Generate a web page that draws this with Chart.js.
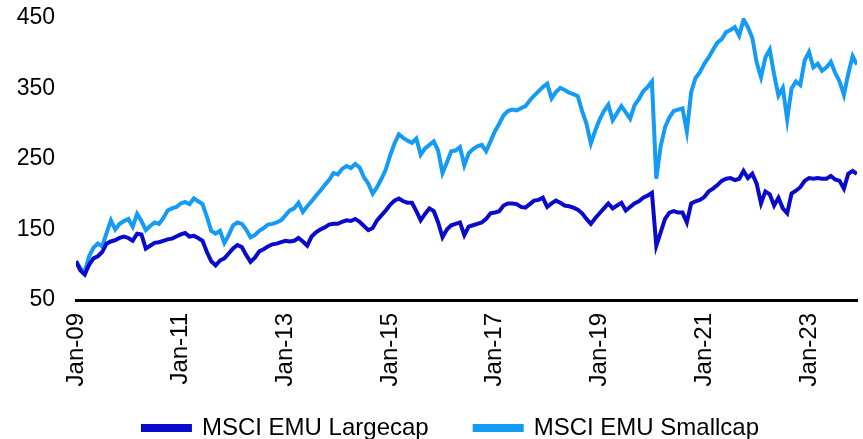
<!DOCTYPE html>
<html>
<head>
<meta charset="utf-8">
<script src="https://cdn.jsdelivr.net/npm/chart.js@4.4.1/dist/chart.umd.min.js"></script>
<style>
  html, body { margin: 0; padding: 0; background: #fff; }
  #wrap { width: 863px; height: 439px; position: relative; }
</style>
</head>
<body>
<div id="wrap"><canvas id="chart"></canvas></div>
<script>
// monthly index levels, Jan 2009 .. Dec 2023 (one row per year)
const largecap = [
  105, 92, 86, 100, 109, 112, 118, 130, 133, 135, 138, 140,
  138, 134, 144, 143, 123, 127, 131, 132, 134, 136, 137, 140,
  143, 145, 140, 141, 138, 134, 118, 105, 99, 106, 109, 116,
  123, 128, 125, 114, 104, 110, 119, 122, 126, 129, 130, 132,
  134, 133, 134, 138, 133, 127, 140, 146, 150, 153, 157, 158,
  158, 161, 163, 162, 165, 161, 155, 149, 152, 163, 170, 177,
  185, 191, 194, 190, 188, 188, 176, 163, 172, 180, 176, 160,
  139, 150, 156, 158, 160, 142, 154, 156, 158, 160, 165, 173,
  174, 176, 184, 187, 187, 186, 182, 181, 186, 191, 192, 195,
  182, 187, 191, 188, 184, 183, 181, 178, 173, 165, 158, 166,
  173, 180, 187, 180, 184, 188, 177, 182, 187, 190, 195, 198,
  202, 127, 146, 165, 174, 176, 174, 174, 160, 187, 190, 192,
  196, 204, 208, 213, 219, 222, 223, 220, 222, 233, 223, 229,
  215, 187, 204, 200, 184, 195, 180, 173, 201, 205, 210, 219,
  223, 222, 223, 222, 222, 226, 221, 219, 208, 229, 233, 229
]
const smallcap = [
  105, 95, 90, 112, 124, 130, 126, 145, 163, 150, 158, 162,
  165, 154, 172, 162, 149, 155, 160, 158, 166, 177, 180, 182,
  187, 189, 186, 194, 190, 186, 168, 148, 144, 148, 131, 142,
  156, 160, 158, 150, 139, 142, 148, 152, 157, 158, 160, 163,
  170, 177, 180, 188, 175, 183, 190, 198, 205, 213, 220, 230,
  228, 236, 240, 237, 243, 238, 224, 215, 201, 210, 222, 235,
  255, 272, 285, 280, 276, 273, 279, 256, 265, 270, 275, 262,
  230, 245, 261, 262, 267, 241, 258, 264, 268, 270, 261, 275,
  289, 300, 312, 318, 320, 319, 322, 325, 333, 340, 346, 352,
  357, 336, 345, 351, 348, 344, 342, 339, 318, 300, 272, 290,
  306, 318, 327, 305, 315, 325, 316, 307, 326, 335, 346, 352,
  360, 222, 268, 295, 309, 318, 320, 322, 289, 345, 365, 373,
  385, 394, 405, 415, 420, 430, 433, 437, 425, 448, 437, 422,
  387, 366, 394, 405, 370, 340, 351, 306, 350, 360, 355, 390,
  402, 380, 385, 375, 380, 388, 372, 360, 341, 371, 396, 384
]
const seriesNames = ["MSCI EMU Largecap", "MSCI EMU Smallcap"]
const tickMonths = [0, 24, 48, 72, 96, 120, 144, 168]
const tickLabels = ["Jan-09", "Jan-11", "Jan-13", "Jan-15", "Jan-17", "Jan-19", "Jan-21", "Jan-23"]
const yTicks = [50, 150, 250, 350, 450]

const font = "'Liberation Sans', Arial, sans-serif"
const toPoints = (arr) => arr.map((v, i) => ({ x: i, y: v }))

// axis labels are clipped to their scale box; widen the clip so they can hang outside
const uncropLabels = {
  id: "uncropLabels",
  afterLayout(chart) {
    chart.scales.y.left = 0
    chart.scales.x.bottom = chart.height
  },
}

new Chart(document.getElementById("chart"), {
  type: "line",
  data: {
    datasets: [
      { label: seriesNames[0], data: toPoints(largecap), borderColor: "#0a0acc", backgroundColor: "#0a0acc", borderWidth: 4 },
      { label: seriesNames[1], data: toPoints(smallcap), borderColor: "#139bf6", backgroundColor: "#139bf6", borderWidth: 4 },
    ],
  },
  plugins: [uncropLabels],
  options: {
    responsive: true,
    maintainAspectRatio: false,
    animation: false,
    elements: { point: { radius: 0 }, line: { tension: 0 } },
    layout: { padding: { left: 45, right: 6, top: 18, bottom: -11 } },
    plugins: {
      tooltip: { enabled: false },
      legend: {
        position: "bottom",
        labels: { color: "#000", font: { family: font, size: 24 }, boxWidth: 47, boxHeight: 4, padding: 46 },
      },
    },
    scales: {
      x: {
        type: "linear",
        min: 0,
        max: 179,
        afterBuildTicks: (s) => { s.ticks = tickMonths.map((v) => ({ value: v })) },
        afterFit: (s) => { s.height = 70; s.paddingLeft = 0; s.paddingRight = 0 },
        grid: { display: false, drawTicks: false },
        border: { display: true, color: "#000", width: 3 },
        ticks: {
          color: "#000",
          font: { family: font, size: 24 },
          minRotation: 90,
          maxRotation: 90,
          padding: 13,
          autoSkip: false,
          callback: (v) => tickLabels[tickMonths.indexOf(v)],
        },
      },
      y: {
        min: 50,
        max: 450,
        afterBuildTicks: (s) => { s.ticks = yTicks.map((v) => ({ value: v })) },
        afterFit: (s) => { s.width = 31; s.paddingTop = 0; s.paddingBottom = 0 },
        grid: { display: false, drawTicks: false },
        border: { display: false },
        ticks: { color: "#000", font: { family: font, size: 23 }, padding: 21 },
      },
    },
  },
})
</script>
</body>
</html>
